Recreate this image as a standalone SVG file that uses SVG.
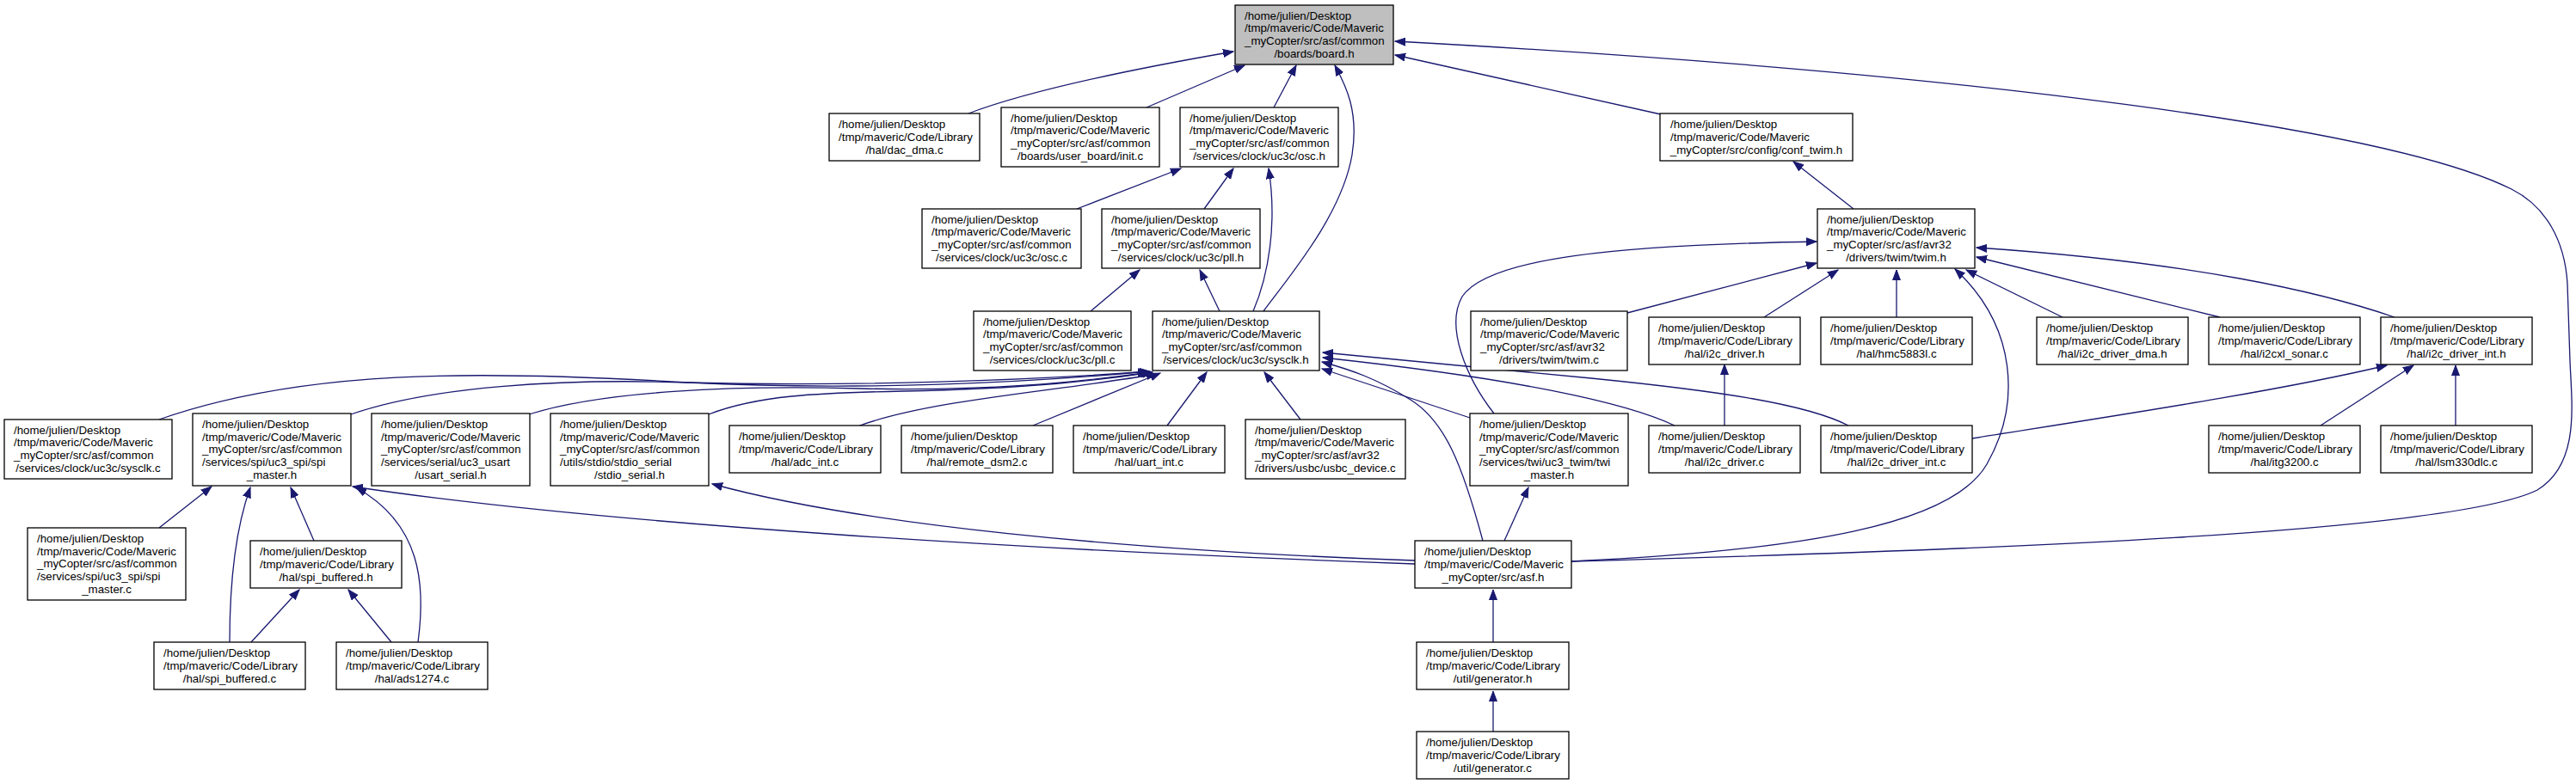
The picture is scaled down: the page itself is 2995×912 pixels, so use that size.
<svg xmlns="http://www.w3.org/2000/svg" width="2995" height="912" viewBox="0 0 2995 912">
<style>
.n rect{fill:#fff;stroke:#000;stroke-width:1.3}
.n text{font-family:"Liberation Sans",Arial,sans-serif;font-size:13.3px;fill:#000}
.n text.c{text-anchor:middle}
.e path{fill:none;stroke:#191970;stroke-width:1.3;marker-end:url(#ah)}
</style>
<defs>
<marker id="ah" markerUnits="userSpaceOnUse" markerWidth="14" markerHeight="12" refX="12" refY="5" orient="auto">
<path d="M0,0.5 L12,5 L0,9.5 z" fill="#191970" stroke="#191970" stroke-width="1"/>
</marker>
</defs>
<rect width="2995" height="912" fill="#fff"/>
<g class="e" id="connectors">
<path d="M1126,132 C1200,104 1330,78 1434,60"/>
<path d="M1333,125 L1447,76"/>
<path d="M1481,125 L1507,76"/>
<path d="M1469,362 C1500,320 1560,250 1572,180 C1580,130 1565,100 1552,76"/>
<path d="M1931,133 L1622,64"/>
<path d="M1827,653 C2300,640 2850,620 2950,570 C3000,540 2990,470 2988,420 L2985,330 C2982,280 2960,240 2920,220 C2780,150 2300,85 1622,48"/>
<path d="M1252,243 L1373,196"/>
<path d="M1400,243 L1434,196"/>
<path d="M1457,362 C1475,320 1485,260 1475,196"/>
<path d="M1268,362 L1325,314"/>
<path d="M1418,362 L1395,314"/>
<path d="M2155,243 L2085,188"/>
<path d="M1737,481 C1705,440 1680,380 1700,345 C1730,300 1880,285 2112,281"/>
<path d="M1892,364 L2112,306"/>
<path d="M2051,369 L2137,314"/>
<path d="M2205,369 L2205,314"/>
<path d="M1827,653 C2100,640 2270,610 2310,540 C2350,470 2345,380 2273,313"/>
<path d="M2398,369 L2286,314"/>
<path d="M2581,369 L2298,299"/>
<path d="M2784,369 C2700,340 2550,305 2298,288"/>
<path d="M2005,495 L2005,424"/>
<path d="M2293,510 C2450,485 2650,455 2775,425"/>
<path d="M2698,495 L2806,425"/>
<path d="M2855,495 L2855,425"/>
<path d="M185,488 C350,430 550,430 800,445 C1000,455 1200,445 1335,432"/>
<path d="M408,482 C500,450 650,440 800,445 C1000,450 1200,442 1337,432"/>
<path d="M615,482 C700,455 850,448 1000,452 C1150,455 1250,445 1338,433"/>
<path d="M824,482 C880,460 950,457 1050,455 C1200,452 1280,442 1340,433"/>
<path d="M997,496 C1080,465 1230,455 1345,435"/>
<path d="M1201,495 L1349,434"/>
<path d="M1357,495 L1403,433"/>
<path d="M1512,488 L1470,433"/>
<path d="M1709,486 L1537,429"/>
<path d="M1724,629 C1700,540 1680,490 1640,465 C1600,440 1570,430 1537,421"/>
<path d="M1947,495 C1890,468 1760,440 1538,416"/>
<path d="M2149,495 C2100,470 2000,455 1850,440 C1700,425 1600,415 1538,410"/>
<path d="M185,614 L246,566"/>
<path d="M267,747 C267,690 272,620 291,567"/>
<path d="M365,629 L338,567"/>
<path d="M486,747 C495,680 490,610 414,567"/>
<path d="M1645,656 C1200,640 700,610 410,566"/>
<path d="M1645,652 C1300,640 1000,610 828,563"/>
<path d="M1749,629 L1777,567"/>
<path d="M1736,747 L1736,686"/>
<path d="M1736,851 L1736,804"/>
<path d="M292,747 L348,686"/>
<path d="M455,747 L405,686"/>
</g>

<g class="n" id="board_h" transform="translate(1436,6)"><rect width="184" height="69" style="fill:#bfbfbf"/><text x="11" y="16.75">/home/julien/Desktop</text><text x="11" y="31.45">/tmp/maveric/Code/Maveric</text><text x="11" y="46.15">_myCopter/src/asf/common</text><text class="c" x="92" y="60.85">/boards/board.h</text></g>
<g class="n" id="dac_dma_c" transform="translate(964,132)"><rect width="175" height="55"/><text x="11" y="17.1">/home/julien/Desktop</text><text x="11" y="31.8">/tmp/maveric/Code/Library</text><text class="c" x="87.5" y="46.5">/hal/dac_dma.c</text></g>
<g class="n" id="init_c" transform="translate(1164,125)"><rect width="184" height="69"/><text x="11" y="16.75">/home/julien/Desktop</text><text x="11" y="31.45">/tmp/maveric/Code/Maveric</text><text x="11" y="46.15">_myCopter/src/asf/common</text><text class="c" x="92" y="60.85">/boards/user_board/init.c</text></g>
<g class="n" id="osc_h" transform="translate(1372,125)"><rect width="184" height="69"/><text x="11" y="16.75">/home/julien/Desktop</text><text x="11" y="31.45">/tmp/maveric/Code/Maveric</text><text x="11" y="46.15">_myCopter/src/asf/common</text><text class="c" x="92" y="60.85">/services/clock/uc3c/osc.h</text></g>
<g class="n" id="conf_twim_h" transform="translate(1930,132)"><rect width="224" height="55"/><text x="12" y="17.1">/home/julien/Desktop</text><text x="12" y="31.8">/tmp/maveric/Code/Maveric</text><text class="c" x="112" y="46.5">_myCopter/src/config/conf_twim.h</text></g>
<g class="n" id="osc_c" transform="translate(1072,243)"><rect width="185" height="69"/><text x="11" y="16.75">/home/julien/Desktop</text><text x="11" y="31.45">/tmp/maveric/Code/Maveric</text><text x="11" y="46.15">_myCopter/src/asf/common</text><text class="c" x="92.5" y="60.85">/services/clock/uc3c/osc.c</text></g>
<g class="n" id="pll_h" transform="translate(1281,243)"><rect width="184" height="69"/><text x="11" y="16.75">/home/julien/Desktop</text><text x="11" y="31.45">/tmp/maveric/Code/Maveric</text><text x="11" y="46.15">_myCopter/src/asf/common</text><text class="c" x="92" y="60.85">/services/clock/uc3c/pll.h</text></g>
<g class="n" id="twim_h" transform="translate(2113,243)"><rect width="183" height="69"/><text x="11" y="16.75">/home/julien/Desktop</text><text x="11" y="31.45">/tmp/maveric/Code/Maveric</text><text x="11" y="46.15">_myCopter/src/asf/avr32</text><text class="c" x="91.5" y="60.85">/drivers/twim/twim.h</text></g>
<g class="n" id="pll_c" transform="translate(1132,362)"><rect width="183" height="69"/><text x="11" y="16.75">/home/julien/Desktop</text><text x="11" y="31.45">/tmp/maveric/Code/Maveric</text><text x="11" y="46.15">_myCopter/src/asf/common</text><text class="c" x="91.5" y="60.85">/services/clock/uc3c/pll.c</text></g>
<g class="n" id="sysclk_h" transform="translate(1340,362)"><rect width="194" height="69"/><text x="11" y="16.75">/home/julien/Desktop</text><text x="11" y="31.45">/tmp/maveric/Code/Maveric</text><text x="11" y="46.15">_myCopter/src/asf/common</text><text class="c" x="97" y="60.85">/services/clock/uc3c/sysclk.h</text></g>
<g class="n" id="twim_c" transform="translate(1710,362)"><rect width="182" height="69"/><text x="11" y="16.75">/home/julien/Desktop</text><text x="11" y="31.45">/tmp/maveric/Code/Maveric</text><text x="11" y="46.15">_myCopter/src/asf/avr32</text><text class="c" x="91" y="60.85">/drivers/twim/twim.c</text></g>
<g class="n" id="i2c_driver_h" transform="translate(1917,369)"><rect width="176" height="55"/><text x="11" y="17.1">/home/julien/Desktop</text><text x="11" y="31.8">/tmp/maveric/Code/Library</text><text class="c" x="88" y="46.5">/hal/i2c_driver.h</text></g>
<g class="n" id="hmc5883l_c" transform="translate(2117,369)"><rect width="176" height="55"/><text x="11" y="17.1">/home/julien/Desktop</text><text x="11" y="31.8">/tmp/maveric/Code/Library</text><text class="c" x="88" y="46.5">/hal/hmc5883l.c</text></g>
<g class="n" id="i2c_driver_dma_h" transform="translate(2368,369)"><rect width="176" height="55"/><text x="11" y="17.1">/home/julien/Desktop</text><text x="11" y="31.8">/tmp/maveric/Code/Library</text><text class="c" x="88" y="46.5">/hal/i2c_driver_dma.h</text></g>
<g class="n" id="i2cxl_sonar_c" transform="translate(2568,369)"><rect width="176" height="55"/><text x="11" y="17.1">/home/julien/Desktop</text><text x="11" y="31.8">/tmp/maveric/Code/Library</text><text class="c" x="88" y="46.5">/hal/i2cxl_sonar.c</text></g>
<g class="n" id="i2c_driver_int_h" transform="translate(2768,369)"><rect width="176" height="55"/><text x="11" y="17.1">/home/julien/Desktop</text><text x="11" y="31.8">/tmp/maveric/Code/Library</text><text class="c" x="88" y="46.5">/hal/i2c_driver_int.h</text></g>
<g class="n" id="sysclk_c" transform="translate(5,488)"><rect width="195" height="69"/><text x="11" y="16.75">/home/julien/Desktop</text><text x="11" y="31.45">/tmp/maveric/Code/Maveric</text><text x="11" y="46.15">_myCopter/src/asf/common</text><text class="c" x="97.5" y="60.85">/services/clock/uc3c/sysclk.c</text></g>
<g class="n" id="spi_master_h" transform="translate(224,481)"><rect width="184" height="84"/><text x="11" y="16.9">/home/julien/Desktop</text><text x="11" y="31.6">/tmp/maveric/Code/Maveric</text><text x="11" y="46.3">_myCopter/src/asf/common</text><text x="11" y="61">/services/spi/uc3_spi/spi</text><text class="c" x="92" y="75.7">_master.h</text></g>
<g class="n" id="usart_serial_h" transform="translate(432,481)"><rect width="184" height="84"/><text x="11" y="16.9">/home/julien/Desktop</text><text x="11" y="31.6">/tmp/maveric/Code/Maveric</text><text x="11" y="46.3">_myCopter/src/asf/common</text><text x="11" y="61">/services/serial/uc3_usart</text><text class="c" x="92" y="75.7">/usart_serial.h</text></g>
<g class="n" id="stdio_serial_h" transform="translate(640,481)"><rect width="184" height="84"/><text x="11" y="16.9">/home/julien/Desktop</text><text x="11" y="31.6">/tmp/maveric/Code/Maveric</text><text x="11" y="46.3">_myCopter/src/asf/common</text><text x="11" y="61">/utils/stdio/stdio_serial</text><text class="c" x="92" y="75.7">/stdio_serial.h</text></g>
<g class="n" id="adc_int_c" transform="translate(848,495)"><rect width="176" height="55"/><text x="11" y="17.1">/home/julien/Desktop</text><text x="11" y="31.8">/tmp/maveric/Code/Library</text><text class="c" x="88" y="46.5">/hal/adc_int.c</text></g>
<g class="n" id="remote_dsm2_c" transform="translate(1048,495)"><rect width="176" height="55"/><text x="11" y="17.1">/home/julien/Desktop</text><text x="11" y="31.8">/tmp/maveric/Code/Library</text><text class="c" x="88" y="46.5">/hal/remote_dsm2.c</text></g>
<g class="n" id="uart_int_c" transform="translate(1248,495)"><rect width="176" height="55"/><text x="11" y="17.1">/home/julien/Desktop</text><text x="11" y="31.8">/tmp/maveric/Code/Library</text><text class="c" x="88" y="46.5">/hal/uart_int.c</text></g>
<g class="n" id="usbc_device_c" transform="translate(1448,488)"><rect width="186" height="69"/><text x="11" y="16.75">/home/julien/Desktop</text><text x="11" y="31.45">/tmp/maveric/Code/Maveric</text><text x="11" y="46.15">_myCopter/src/asf/avr32</text><text class="c" x="93" y="60.85">/drivers/usbc/usbc_device.c</text></g>
<g class="n" id="twi_master_h" transform="translate(1709,481)"><rect width="184" height="84"/><text x="11" y="16.9">/home/julien/Desktop</text><text x="11" y="31.6">/tmp/maveric/Code/Maveric</text><text x="11" y="46.3">_myCopter/src/asf/common</text><text x="11" y="61">/services/twi/uc3_twim/twi</text><text class="c" x="92" y="75.7">_master.h</text></g>
<g class="n" id="i2c_driver_c" transform="translate(1917,495)"><rect width="176" height="55"/><text x="11" y="17.1">/home/julien/Desktop</text><text x="11" y="31.8">/tmp/maveric/Code/Library</text><text class="c" x="88" y="46.5">/hal/i2c_driver.c</text></g>
<g class="n" id="i2c_driver_int_c" transform="translate(2117,495)"><rect width="176" height="55"/><text x="11" y="17.1">/home/julien/Desktop</text><text x="11" y="31.8">/tmp/maveric/Code/Library</text><text class="c" x="88" y="46.5">/hal/i2c_driver_int.c</text></g>
<g class="n" id="itg3200_c" transform="translate(2568,495)"><rect width="176" height="55"/><text x="11" y="17.1">/home/julien/Desktop</text><text x="11" y="31.8">/tmp/maveric/Code/Library</text><text class="c" x="88" y="46.5">/hal/itg3200.c</text></g>
<g class="n" id="lsm330dlc_c" transform="translate(2768,495)"><rect width="176" height="55"/><text x="11" y="17.1">/home/julien/Desktop</text><text x="11" y="31.8">/tmp/maveric/Code/Library</text><text class="c" x="88" y="46.5">/hal/lsm330dlc.c</text></g>
<g class="n" id="spi_master_c" transform="translate(32,614)"><rect width="184" height="84"/><text x="11" y="16.9">/home/julien/Desktop</text><text x="11" y="31.6">/tmp/maveric/Code/Maveric</text><text x="11" y="46.3">_myCopter/src/asf/common</text><text x="11" y="61">/services/spi/uc3_spi/spi</text><text class="c" x="92" y="75.7">_master.c</text></g>
<g class="n" id="spi_buffered_h" transform="translate(291,629)"><rect width="176" height="55"/><text x="11" y="17.1">/home/julien/Desktop</text><text x="11" y="31.8">/tmp/maveric/Code/Library</text><text class="c" x="88" y="46.5">/hal/spi_buffered.h</text></g>
<g class="n" id="asf_h" transform="translate(1645,629)"><rect width="182" height="55"/><text x="11" y="17.1">/home/julien/Desktop</text><text x="11" y="31.8">/tmp/maveric/Code/Maveric</text><text class="c" x="91" y="46.5">_myCopter/src/asf.h</text></g>
<g class="n" id="spi_buffered_c" transform="translate(179,747)"><rect width="176" height="55"/><text x="11" y="17.1">/home/julien/Desktop</text><text x="11" y="31.8">/tmp/maveric/Code/Library</text><text class="c" x="88" y="46.5">/hal/spi_buffered.c</text></g>
<g class="n" id="ads1274_c" transform="translate(391,747)"><rect width="176" height="55"/><text x="11" y="17.1">/home/julien/Desktop</text><text x="11" y="31.8">/tmp/maveric/Code/Library</text><text class="c" x="88" y="46.5">/hal/ads1274.c</text></g>
<g class="n" id="generator_h" transform="translate(1647,747)"><rect width="177" height="55"/><text x="11" y="17.1">/home/julien/Desktop</text><text x="11" y="31.8">/tmp/maveric/Code/Library</text><text class="c" x="88.5" y="46.5">/util/generator.h</text></g>
<g class="n" id="generator_c" transform="translate(1647,851)"><rect width="177" height="55"/><text x="11" y="17.1">/home/julien/Desktop</text><text x="11" y="31.8">/tmp/maveric/Code/Library</text><text class="c" x="88.5" y="46.5">/util/generator.c</text></g>
</svg>
